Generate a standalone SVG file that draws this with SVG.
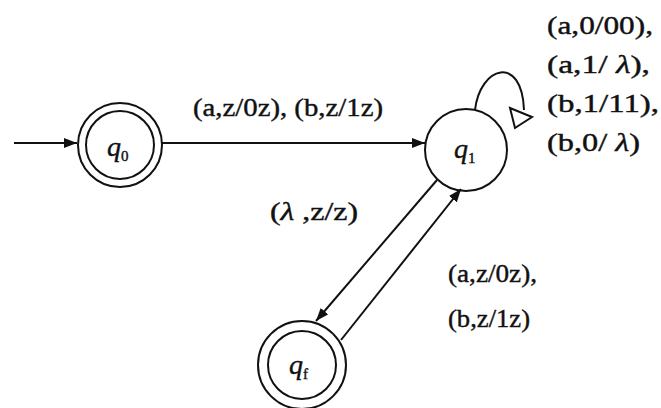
<svg xmlns="http://www.w3.org/2000/svg" width="661" height="408" viewBox="0 0 661 408">
<defs>
<marker id="arr" markerUnits="userSpaceOnUse" markerWidth="14" markerHeight="12" refX="13" refY="5" orient="auto">
<path d="M0,0 L13,5 L0,10 Z" fill="#111"/>
</marker>
</defs>
<style>
.st{fill:none;stroke:#111;stroke-width:2}
.lb{font-family:"Liberation Serif","Times New Roman",serif;font-size:25px;fill:#111;stroke:#111;stroke-width:0.4}
.nm{font-family:"Liberation Serif","Times New Roman",serif;font-size:28px;font-style:italic;fill:#111;stroke:#111;stroke-width:0.4}
.sb{font-size:15px;font-style:normal}
.it{font-style:italic}
</style>
<rect width="661" height="408" fill="#fff"/>
<g id="connectors">
<line class="st" x1="14" y1="143" x2="77" y2="143" marker-end="url(#arr)"/>
<line class="st" x1="162" y1="143" x2="425" y2="143" marker-end="url(#arr)"/>
<line class="st" x1="437" y1="180" x2="316" y2="321" marker-end="url(#arr)"/>
<line class="st" x1="341" y1="340" x2="461" y2="189" marker-end="url(#arr)"/>
<path class="st" d="M475,110 C480,66 522,54 524,110"/>
<polygon class="st" points="510,108 532,117 515,128" fill="#fff"/>
</g>
<g id="q0">
<circle class="st" cx="120" cy="145" r="42"/>
<circle class="st" cx="120" cy="145" r="34"/>
<text class="nm" x="107" y="156">q<tspan class="sb" dy="5">0</tspan></text>
</g>
<g id="q1">
<circle class="st" cx="466" cy="150" r="41"/>
<text class="nm" x="454" y="158">q<tspan class="sb" dy="5">1</tspan></text>
</g>
<g id="qf">
<circle class="st" cx="302" cy="365" r="44"/>
<circle class="st" cx="302" cy="365" r="34"/>
<text class="nm" x="289" y="374">q<tspan class="sb" dy="5">f</tspan></text>
</g>
<g id="labels">
<text class="lb" x="193" y="116" textLength="190" lengthAdjust="spacingAndGlyphs">(a,z/0z), (b,z/1z)</text>
<text class="lb" x="547" y="34" textLength="106" lengthAdjust="spacingAndGlyphs">(a,0/00),</text>
<text class="lb" x="547" y="73" textLength="103" lengthAdjust="spacingAndGlyphs">(a,1/ <tspan class="it">λ</tspan>),</text>
<text class="lb" x="547" y="112" textLength="112" lengthAdjust="spacingAndGlyphs">(b,1/11),</text>
<text class="lb" x="547" y="151" textLength="93" lengthAdjust="spacingAndGlyphs">(b,0/ <tspan class="it">λ</tspan>)</text>
<text class="lb" x="270" y="220" textLength="88" lengthAdjust="spacingAndGlyphs">(<tspan class="it">λ</tspan> ,z/z)</text>
<text class="lb" x="448" y="282" textLength="89" lengthAdjust="spacingAndGlyphs">(a,z/0z),</text>
<text class="lb" x="448" y="327" textLength="82" lengthAdjust="spacingAndGlyphs">(b,z/1z)</text>
</g>
</svg>
